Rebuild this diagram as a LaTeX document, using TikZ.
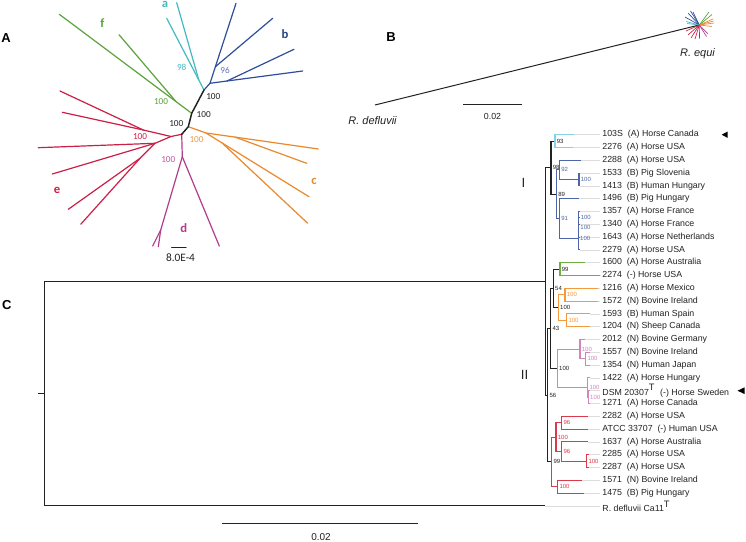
\documentclass[tikz,border=0pt]{standalone}
\usepackage{fontspec}
\setmainfont{Liberation Sans}
\newfontfamily\carfont{Carlito}
\definecolor{cA}{HTML}{45B9C3}
\definecolor{bA}{HTML}{2F4E9C}
\definecolor{fA}{HTML}{5BA33B}
\definecolor{oA}{HTML}{E8892E}
\definecolor{dA}{HTML}{B23C8C}
\definecolor{eA}{HTML}{CC1F46}
\definecolor{cC}{HTML}{84D2E8}
\definecolor{bC}{HTML}{4E66A8}
\definecolor{fC}{HTML}{6DAF40}
\definecolor{oC}{HTML}{F39A3C}
\definecolor{dC}{HTML}{D384BE}
\definecolor{eC}{HTML}{DC3A4A}
\definecolor{ink}{HTML}{222222}
\definecolor{leadc}{HTML}{DDDDDD}
\begin{document}
\begin{tikzpicture}[x=0.75pt,y=-0.75pt,
 br/.style={line width=0.9pt, line cap=round, line join=round},
 brC/.style={line width=0.85pt},
 bs/.style={font=\fontsize{4.5}{5}\selectfont, anchor=west, inner sep=0pt, xshift=1.2pt},
 tiplab/.style={font=\fontsize{6.6}{7}\selectfont, anchor=west, inner sep=0pt, xshift=2pt, text=ink},
 bsA/.style={font=\carfont\fontsize{6.9}{7}\selectfont, inner sep=0pt},
 cladeL/.style={font=\carfont\bfseries\fontsize{9.5}{10}\selectfont, inner sep=0pt},
 panel/.style={font=\bfseries\fontsize{9.75}{10}\selectfont, inner sep=0pt, text=black},
 leadln/.style={draw=leadc, line width=0.4pt},
]
\useasboundingbox (0,0) rectangle (746,542);
\fill[white] (0,0) rectangle (746,542);

% ================= Panel A =================
\node[panel] (pA) at (6,38.5) {A};
\coordinate (AB) at (204,90);
\coordinate (Fj) at (191.7,113.3);
\coordinate (Oj) at (188.3,126.7);
\coordinate (RP) at (181.7,134.3);
% cyan a
\coordinate (a0) at (198.8,80);
\coordinate (at1) at (166.7,18.3);
\coordinate (at2) at (176.7,2.7);
\draw[br,cA] (AB) -- (a0) -- (at1);
\draw[br,cA] (a0) -- (at2);
% blue b
\coordinate (B0) at (210,83.3);
\coordinate (B1) at (215.4,66.7);
\coordinate (B2) at (227,81);
\coordinate (bt1) at (236,3.3);
\coordinate (bt2) at (272.7,18.3);
\coordinate (bt3) at (294,49.3);
\coordinate (bt4) at (302.7,71);
\draw[br,bA] (AB) -- (B0) -- (B1) -- (bt1);
\draw[br,bA] (B1) -- (bt2);
\draw[br,bA] (B0) -- (B2) -- (bt3);
\draw[br,bA] (B2) -- (bt4);
% green f
\coordinate (f0) at (176,101.6);
\coordinate (ft1) at (59.3,14.3);
\coordinate (ft2) at (119,34.7);
\draw[br,fA] (Fj) -- (f0) -- (ft1);
\draw[br,fA] (f0) -- (ft2);
% orange c
\coordinate (c0) at (206,133);
\coordinate (c1) at (235,137.1);
\coordinate (c2) at (222,142.9);
\coordinate (ct1) at (318.3,149);
\coordinate (ct2) at (306.7,163.3);
\coordinate (ct3) at (309,196.7);
\coordinate (ct4) at (307.7,223.3);
\draw[br,oA] (Oj) -- (c0) -- (c1) -- (ct1);
\draw[br,oA] (c1) -- (ct2);
\draw[br,oA] (c0) -- (c2) -- (ct3);
\draw[br,oA] (c2) -- (ct4);
% red e
\coordinate (e0) at (171,136.5);
\coordinate (e1) at (143.3,130);
\coordinate (e2) at (155,143.3);
\coordinate (e4) at (140,158.3);
\coordinate (et1) at (60,91);
\coordinate (et2) at (62.3,112.3);
\coordinate (et3) at (38.3,147.7);
\coordinate (et4) at (52.3,174);
\coordinate (et5) at (68.3,209.3);
\coordinate (et6) at (80.7,224.3);
\draw[br,eA] (RP) -- (e0) -- (e1) -- (et1);
\draw[br,eA] (e1) -- (et2);
\draw[br,eA] (e0) -- (e2) -- (et3);
\draw[br,eA] (e2) -- (et4);
\draw[br,eA] (e2) -- (e4) -- (et5);
\draw[br,eA] (e4) -- (et6);
% pink d
\coordinate (d0) at (182.3,156.7);
\coordinate (d1) at (160.7,230);
\coordinate (dt1) at (219.3,246);
\coordinate (dt2) at (152.7,246);
\coordinate (dt3) at (158.3,246.7);
\draw[br,dA] (RP) -- (d0) -- (dt1);
\draw[br,dA] (d0) -- (d1) -- (dt2);
\draw[br,dA] (d1) -- (dt3);
% backbone
\draw[br,ink,line width=1.1pt] (AB) -- (Fj) -- (Oj) -- (RP);
% support values A
\node[bsA,text=ink] (bA1) at (213.3,96.7) {100};
\node[bsA,text=ink] (bA2) at (203.7,114.3) {100};
\node[bsA,text=ink] (bA3) at (176.3,123.3) {100};
\node[bsA,text=cA] (bA4) at (181.7,67.7) {98};
\node[bsA,text=bA!75] (bA5) at (225,70.7) {96};
\node[bsA,text=fA] (bA6) at (161,101.7) {100};
\node[bsA,text=oA!85] (bA7) at (196.5,139.3) {100};
\node[bsA,text=eA] (bA8) at (140,136.7) {100};
\node[bsA,text=dA!85] (bA9) at (168.3,160) {100};
% clade letters
\node[cladeL,text=cA] (La) at (165,4.5) {a};
\node[cladeL,text=bA!85!black] (Lb) at (285,34.3) {b};
\node[cladeL,text=fA] (Lf) at (102.5,22.7) {f};
\node[cladeL,text=oA] (Lc) at (314,181) {c};
\node[cladeL,text=eA] (Le) at (57,190) {e};
\node[cladeL,text=dA] (Ld) at (183.7,228) {d};
% scale bar A
\coordinate (sA1) at (171.7,247.3);
\coordinate (sA2) at (186,247.3);
\draw[br,ink] (sA1) -- (sA2);
\node[font=\carfont\fontsize{8.5}{9}\selectfont, inner sep=0pt, text=ink] (sAl) at (180.5,257.5) {8.0E-4};

% ================= Panel B =================
\node[panel] (pB) at (391,37) {B};
\coordinate (Bd) at (375,105);
\coordinate (Be) at (699.3,25);
\draw[ink, line width=0.75pt] (Bd) -- (Be);
\foreach \ex/\ey/\cc [count=\k] in {688/13/bA,693/12/bA,685/17/bA,690.5/11/bA,686/21.5/cA,687/23.5/cA,709/12/fA,712/14.5/fA,713/19/oA,714/23/oA,712/26.5/oA,713.5/21/oA,688/35/eA,691/38/eA,695/39/eA,699.5/38.5/eA,686/31/eA,708/34/dA,706.5/36.5/dA}{
  \coordinate (S\k) at (\ex,\ey);
  \draw[\cc, line width=0.5pt] (Be) -- (S\k);
}
\node[font=\itshape\fontsize{8.25}{9}\selectfont, inner sep=0pt, text=ink] (Bdl) at (372.5,120.3) {R. defluvii};
\node[font=\itshape\fontsize{8.25}{9}\selectfont, inner sep=0pt, text=ink] (Bel) at (697.5,53.3) {R. equi};
\coordinate (sB1) at (463.3,105);
\coordinate (sB2) at (521.7,105);
\draw[ink, line width=0.75pt] (sB1) -- (sB2);
\node[font=\fontsize{6.6}{7}\selectfont, inner sep=0pt, text=ink] (sBl) at (492.5,116.7) {0.02};

% ================= Panel C =================
\node[panel] (pC) at (6.7,305) {C};
\foreach \i/\tx in {0/574.3,1/573.3,2/580.7,3/580,4/580,5/579.3,6/580,7/580,8/580,9/580,10/585,11/600,12/598.3,13/598.3,14/590,15/590,16/585,17/590,18/590,19/590,20/590,21/590,22/588,23/588,24/588,25/589,26/589,27/582,28/584.3,29/545}{
  \coordinate (t\i) at (\tx,{134.7+12.8*\i});
  \coordinate (l\i) at (599.5,{134.7+12.8*\i});
}
\foreach \i in {0,...,29}{\draw[leadln] (t\i) -- (l\i);}

% internal nodes
\coordinate (root) at (44.3,393.7);
\coordinate (rootT) at (37.7,393.7);
\coordinate (R) at (545.7,281.5);
\coordinate (nI) at (551,167.8);
\coordinate (na) at (555,141.1);
\coordinate (nb) at (556.5,194.5);
\coordinate (n92) at (559.5,169.9);
\coordinate (n92in) at (579,179.5);
\coordinate (n91) at (559.5,218.7);
\coordinate (nG3) at (578.3,238.7);
\coordinate (nG2) at (578.6,227.5);
\coordinate (nG1) at (578.9,217.9);
\coordinate (nII) at (547.7,395.1);
\coordinate (n43) at (550.7,328.3);
\coordinate (n54) at (553.3,288.3);
\coordinate (nf) at (560,269.1);
\coordinate (nc) at (558.3,307.5);
\coordinate (nc1) at (565,294.7);
\coordinate (nc2) at (566.7,320.3);
\coordinate (nd) at (557.3,368.3);
\coordinate (nd1) at (580,349.1);
\coordinate (nd1i) at (585.7,358.7);
\coordinate (nd2) at (587.7,387.5);
\coordinate (nd2i) at (588.3,397.1);
\coordinate (ne) at (551.7,461.9);
\coordinate (ne1) at (556,437.1);
\coordinate (ne1a) at (561.7,422.7);
\coordinate (ne1b) at (561.7,451.5);
\coordinate (ne1bi) at (586.7,461.1);
\coordinate (ne2) at (557.7,486.7);

% black backbone
\draw[brC,ink] (rootT) -- (root);
\draw[brC,ink] (root) |- (R);
\draw[brC,ink] (root) |- (t29);
\draw[brC,ink] (R) |- (nI);
\draw[brC,ink] (R) |- (nII);
\draw[brC,ink] (nI) |- (na);
\draw[brC,ink] (nI) |- (nb);
\draw[brC,ink] (nII) |- (n43);
\draw[brC,ink] (nII) |- (ne);
\draw[brC,ink] (n43) |- (n54);
\draw[brC,ink] (n43) |- (nd);
\draw[brC,ink] (n54) |- (nf);
\draw[brC,ink] (n54) |- (nc);
% clade a
\draw[brC,cC] (na) |- (t0);
\draw[brC,cC] (na) |- (t1);
% clade b
\draw[brC,bC] (nb) |- (n92);
\draw[brC,bC] (nb) |- (n91);
\draw[brC,bC] (n92) |- (t2);
\draw[brC,bC] (n92) |- (n92in);
\draw[brC,bC] (n92in) |- (t3);
\draw[brC,bC] (n92in) |- (t4);
\draw[brC,bC] (n91) |- (t5);
\draw[brC,bC] (n91) |- (nG3);
\draw[brC,bC] (nG3) |- (t9);
\draw[brC,bC] (nG3) |- (nG2);
\draw[brC,bC] (nG2) |- (t8);
\draw[brC,bC] (nG2) |- (nG1);
\draw[brC,bC] (nG1) |- (t6);
\draw[brC,bC] (nG1) |- (t7);
% clade f
\draw[brC,fC] (nf) |- (t10);
\draw[brC,fC] (nf) |- (t11);
% clade c
\draw[brC,oC] (nc) |- (nc1);
\draw[brC,oC] (nc) |- (nc2);
\draw[brC,oC] (nc1) |- (t12);
\draw[brC,oC] (nc1) |- (t13);
\draw[brC,oC] (nc2) |- (t14);
\draw[brC,oC] (nc2) |- (t15);
% clade d
\draw[brC,dC] (nd) |- (nd1);
\draw[brC,dC] (nd) |- (nd2);
\draw[brC,dC] (nd1) |- (t16);
\draw[brC,dC] (nd1) |- (nd1i);
\draw[brC,dC] (nd1i) |- (t17);
\draw[brC,dC] (nd1i) |- (t18);
\draw[brC,dC] (nd2) |- (t19);
\draw[brC,dC] (nd2) |- (nd2i);
\draw[brC,dC] (nd2i) |- (t20);
\draw[brC,dC] (nd2i) |- (t21);
% clade e
\draw[brC,eC] (ne) |- (ne1);
\draw[brC,eC] (ne) |- (ne2);
\draw[brC,eC] (ne1) |- (ne1a);
\draw[brC,eC] (ne1) |- (ne1b);
\draw[brC,eC] (ne1a) |- (t22);
\draw[brC,eC] (ne1a) |- (t23);
\draw[brC,eC] (ne1b) |- (t24);
\draw[brC,eC] (ne1b) |- (ne1bi);
\draw[brC,eC] (ne1bi) |- (t25);
\draw[brC,eC] (ne1bi) |- (t26);
\draw[brC,eC] (ne2) |- (t27);
\draw[brC,eC] (ne2) |- (t28);

% support values C
\node[bs,text=ink] (s98) at (nI) {98};
\node[bs,text=ink] (s93) at (na) {93};
\node[bs,text=ink] (s89) at (nb) {89};
\node[bs,text=bC] (s92) at (n92) {92};
\node[bs,text=bC] (s92i) at (n92in) {100};
\node[bs,text=bC] (s91) at (n91) {91};
\node[bs,text=bC] (sG1) at (nG1) {100};
\node[bs,text=bC] (sG2) at (nG2) {100};
\node[bs,text=bC] (sG3) at (nG3) {100};
\node[bs,text=ink] (s99f) at (nf) {99};
\node[bs,text=ink] (s54) at (n54) {54};
\node[bs,text=ink] (sc) at (nc) {100};
\node[bs,text=oC] (sc1) at (nc1) {100};
\node[bs,text=oC] (sc2) at (nc2) {100};
\node[bs,text=ink] (s43) at (n43) {43};
\node[bs,text=ink] (sd) at (nd) {100};
\node[bs,text=dC] (sd1) at (nd1) {100};
\node[bs,text=dC] (sd1i) at (nd1i) {100};
\node[bs,text=dC] (sd2) at (nd2) {100};
\node[bs,text=dC] (sd2i) at (nd2i) {100};
\node[bs,text=ink] (s56) at (nII) {56};
\node[bs,text=ink] (s99e) at (ne) {99};
\node[bs,text=eC] (se1) at (ne1) {100};
\node[bs,text=eC] (se1a) at (ne1a) {96};
\node[bs,text=eC] (se1b) at (ne1b) {96};
\node[bs,text=eC] (se1bi) at (ne1bi) {100};
\node[bs,text=eC] (se2) at (ne2) {100};

% tip labels
\node[tiplab] (x0) at (l0) {103S\ \ (A) Horse Canada};
\node[tiplab] (x1) at (l1) {2276\ \ (A) Horse USA};
\node[tiplab] (x2) at (l2) {2288\ \ (A) Horse USA};
\node[tiplab] (x3) at (l3) {1533\ \ (B) Pig Slovenia};
\node[tiplab] (x4) at (l4) {1413\ \ (B) Human Hungary};
\node[tiplab] (x5) at (l5) {1496\ \ (B) Pig Hungary};
\node[tiplab] (x6) at (l6) {1357\ \ (A) Horse France};
\node[tiplab] (x7) at (l7) {1340\ \ (A) Horse France};
\node[tiplab] (x8) at (l8) {1643\ \ (A) Horse Netherlands};
\node[tiplab] (x9) at (l9) {2279\ \ (A) Horse USA};
\node[tiplab] (x10) at (l10) {1600\ \ (A) Horse Australia};
\node[tiplab] (x11) at (l11) {2274\ \ (-) Horse USA};
\node[tiplab] (x12) at (l12) {1216\ \ (A) Horse Mexico};
\node[tiplab] (x13) at (l13) {1572\ \ (N) Bovine Ireland};
\node[tiplab] (x14) at (l14) {1593\ \ (B) Human Spain};
\node[tiplab] (x15) at (l15) {1204\ \ (N) Sheep Canada};
\node[tiplab] (x16) at (l16) {2012\ \ (N) Bovine Germany};
\node[tiplab] (x17) at (l17) {1557\ \ (N) Bovine Ireland};
\node[tiplab] (x18) at (l18) {1354\ \ (N) Human Japan};
\node[tiplab] (x19) at (l19) {1422\ \ (A) Horse Hungary};
\node[tiplab] (x20) at (l20) {DSM 20307\textsuperscript{\fontsize{7}{7}\selectfont T}\ \ (-) Horse Sweden};
\node[tiplab] (x21) at (l21) {1271\ \ (A) Horse Canada};
\node[tiplab] (x22) at (l22) {2282\ \ (A) Horse USA};
\node[tiplab] (x23) at (l23) {ATCC 33707\ \ (-) Human USA};
\node[tiplab] (x24) at (l24) {1637\ \ (A) Horse Australia};
\node[tiplab] (x25) at (l25) {2285\ \ (A) Horse USA};
\node[tiplab] (x26) at (l26) {2287\ \ (A) Horse USA};
\node[tiplab] (x27) at (l27) {1571\ \ (N) Bovine Ireland};
\node[tiplab] (x28) at (l28) {1475\ \ (B) Pig Hungary};
\node[tiplab] (x29) at (l29) {R. defluvii Ca11\textsuperscript{\fontsize{7}{7}\selectfont T}};

% arrow markers
\coordinate (m1) at (721.7,134.7);
\coordinate (m2) at (737.5,390.7);
\fill[black] (m1) -- ++(6,-3.2) -- ++(0,6.4) -- cycle;
\fill[black] (m2) -- ++(7,-3.3) -- ++(0,6.6) -- cycle;

% group numerals
\node[font=\fontsize{10}{10}\selectfont, inner sep=0pt, text=ink] (gI) at (523.5,183.3) {I};
\node[font=\fontsize{10}{10}\selectfont, inner sep=0pt, text=ink] (gII) at (524.5,375) {II};

% scale bar C
\coordinate (sC1) at (221.7,523.3);
\coordinate (sC2) at (417.7,523.3);
\draw[ink, line width=0.75pt] (sC1) -- (sC2);
\node[font=\fontsize{7.5}{8}\selectfont, inner sep=0pt, text=ink] (sCl) at (321,537.5) {0.02};
\end{tikzpicture}
\end{document}
